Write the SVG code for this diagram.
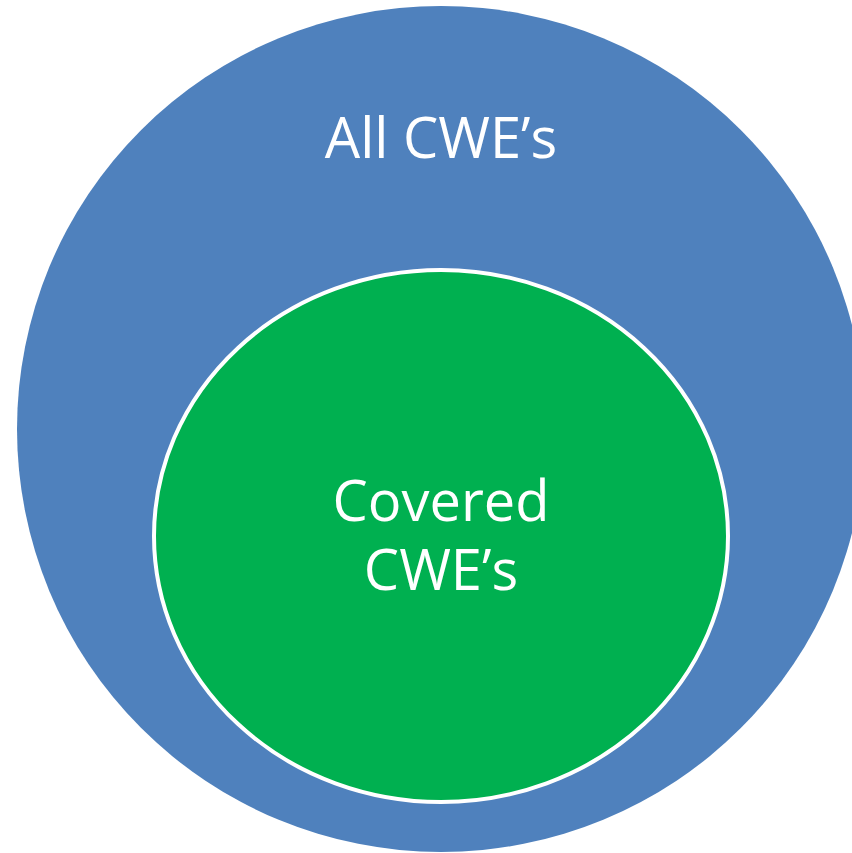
<svg xmlns="http://www.w3.org/2000/svg" width="852" height="853" viewBox="0 0 852 853">
  <style>
    .label { font-family: "Open Sans", "Liberation Sans", sans-serif; fill: #ffffff; text-anchor: middle; }
  </style>
  <rect width="852" height="853" fill="#ffffff"/>
  <g id="all-cwes">
    <ellipse cx="441" cy="429" rx="424" ry="423" fill="#4f81bd"/>
    <text class="label" x="441" y="158" font-size="56">All CWE’s</text>
  </g>
  <g id="covered-cwes">
    <ellipse cx="441" cy="536" rx="287" ry="266" fill="#00b050" stroke="#ffffff" stroke-width="4"/>
    <text class="label" x="441" y="521" font-size="56">Covered</text>
    <text class="label" x="441" y="590" font-size="56">CWE’s</text>
  </g>
  <g id="connectors"/>
</svg>
